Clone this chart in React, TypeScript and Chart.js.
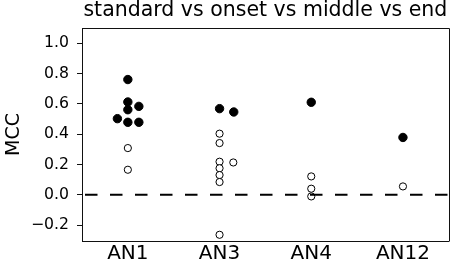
import React, { useEffect, useRef } from "react";
import { Chart, registerables } from "chart.js";

Chart.register(...registerables);

const categories = ["AN1", "AN3", "AN4", "AN12"];
const titleText = "standard vs onset vs middle vs end";
const yLabel = "MCC";
const yTicks = [-0.2, 0.0, 0.2, 0.4, 0.6, 0.8, 1.0];

// filled markers
const filledCat = [0, 0, 0, 0, 0, 0, 0, 1, 1, 2, 3];
const filledShift = [0, 0, 0.12, 0, -0.114, 0, 0.12, 0, 0.155, 0, 0];
const filledMCC = [0.76, 0.612, 0.583, 0.561, 0.502, 0.478, 0.478, 0.568, 0.546, 0.61, 0.378];

// open markers
const openCat = [0, 0, 1, 1, 1, 1, 1, 1, 1, 1, 2, 2, 2, 3];
const openShift = [0, 0, 0, 0, 0.15, 0, 0, 0, 0, 0, 0, 0, 0, 0];
const openMCC = [0.308, 0.165, 0.403, 0.341, 0.213, 0.218, 0.175, 0.13, 0.084, -0.264, 0.121, 0.04, -0.011, 0.055];

const zeroLineX = [-0.5, 3.5];
const zeroLineY = [0, 0];

const FONT = "DejaVu Sans";

const boxPlugin = {
  id: "boxSpines",
  afterDatasetsDraw(chart: any) {
    const { ctx, chartArea } = chart;
    ctx.save();
    ctx.strokeStyle = "#111";
    ctx.lineWidth = 1;
    ctx.beginPath();
    const t = Math.round(chartArea.top) + 0.5;
    const r = Math.round(chartArea.right) + 0.5;
    const l = Math.round(chartArea.left) + 0.5;
    const b = Math.round(chartArea.bottom) + 0.5;
    ctx.moveTo(l, t);
    ctx.lineTo(r, t);
    ctx.lineTo(r, b);
    ctx.stroke();
    ctx.restore();
  },
};

export default function App() {
  const ref = useRef<HTMLCanvasElement | null>(null);
  useEffect(() => {
    document.body.style.margin = "0";
    const canvas = ref.current;
    if (!canvas) return;
    const chart = new Chart(canvas, {
      type: "scatter",
      data: {
        datasets: [
          {
            type: "line",
            data: zeroLineX.map((x, i) => ({ x, y: zeroLineY[i] })),
            borderColor: "#000",
            borderWidth: 2,
            borderDash: [12.5, 12.5],
            borderDashOffset: 22,
            pointRadius: 0,
            fill: false,
            order: 0,
          } as any,
          {
            data: openMCC.map((y, i) => ({ x: openCat[i] + openShift[i], y })),
            backgroundColor: "#fff",
            borderColor: "#000",
            borderWidth: 1,
            pointRadius: 3.6,
            order: 2,
          },
          {
            data: filledMCC.map((y, i) => ({ x: filledCat[i] + filledShift[i], y })),
            backgroundColor: "#000",
            borderColor: "#000",
            borderWidth: 1,
            pointRadius: 4.2,
            order: 1,
          },
        ],
      },
      options: {
        responsive: false,
        animation: false,
        events: [],
        layout: { padding: { left: 0, right: 5, top: 0, bottom: 0 } },
        plugins: {
          legend: { display: false },
          tooltip: { enabled: false },
          title: {
            display: true,
            text: titleText,
            color: "#000",
            fullSize: false,
            font: { family: FONT, size: 20.5, weight: "normal", lineHeight: 1 },
            padding: { top: 0, bottom: 7.5 },
          } as any,
        },
        scales: {
          x: {
            type: "linear",
            min: -0.5,
            max: 3.5,
            afterBuildTicks: (s: any) => {
              s.ticks = categories.map((_, i) => ({ value: i }));
            },
            afterFit: (s: any) => {
              s.height = 22;
            },
            ticks: {
              color: "#000",
              font: { family: FONT, size: 20 },
              padding: 1,
              maxRotation: 0,
              autoSkip: false,
              callback: (v: any) => categories[Math.round(Number(v))] ?? "",
            },
            grid: { display: true, drawOnChartArea: false, drawTicks: false },
            border: { display: true, color: "#111", width: 1 },
          },
          y: {
            type: "linear",
            min: -0.305,
            max: 1.1,
            afterBuildTicks: (s: any) => {
              s.ticks = yTicks.map((v) => ({ value: v }));
            },
            afterFit: (s: any) => {
              s.width = 82;
            },
            ticks: {
              color: "#000",
              font: { family: FONT, size: 15.7 },
              padding: 8,
              callback: (v: any) => Number(v).toFixed(1).replace("-", "\u2212"),
            },
            grid: {
              display: true,
              drawOnChartArea: false,
              drawTicks: true,
              tickLength: 5,
              color: "#111",
              lineWidth: 1,
            },
            border: { display: true, color: "#111", width: 1 },
            title: {
              display: true,
              text: yLabel,
              color: "#000",
              font: { family: FONT, size: 19, lineHeight: 1.2 },
              padding: { top: 3, bottom: 0 },
            },
          },
        },
      },
      plugins: [boxPlugin],
    });
    return () => chart.destroy();
  }, []);
  return (
    <div style={{ width: 454, height: 263 }}>
      <canvas ref={ref} width={454} height={263} style={{ display: "block", width: 454, height: 263 }} />
    </div>
  );
}
